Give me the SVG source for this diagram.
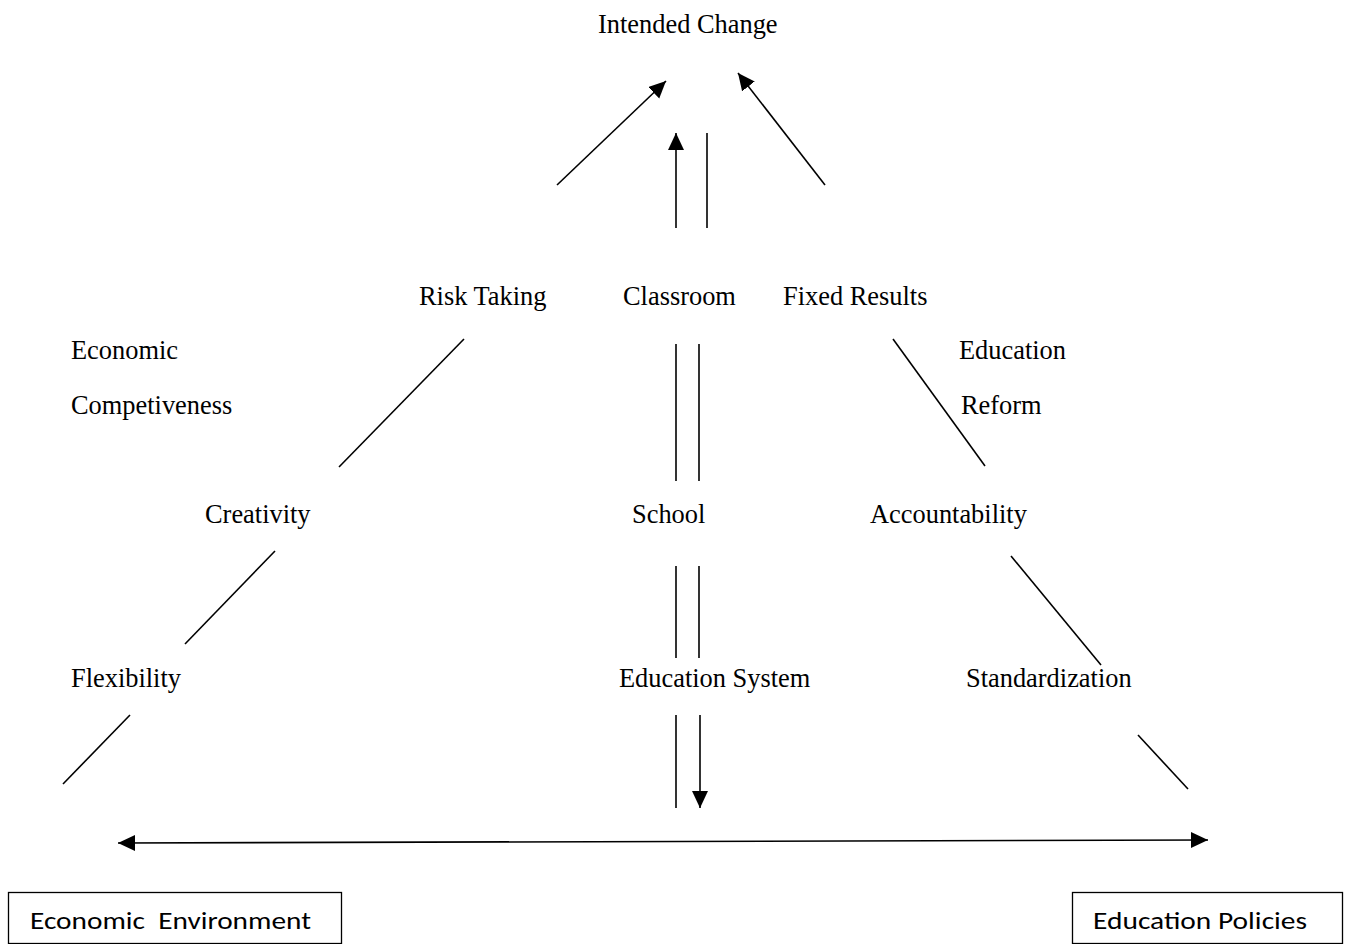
<svg xmlns="http://www.w3.org/2000/svg" width="1345" height="944" viewBox="0 0 1345 944">
<style>
.t{font-family:"Liberation Serif","Times New Roman",serif;font-size:26.4px;fill:#000}
.b{font-family:"Carlito","Liberation Sans",Arial,sans-serif;font-size:25px;fill:#000}
.c line{stroke:#000;stroke-width:1.6}
.box{fill:#fff;stroke:#000;stroke-width:1.3}
</style>
<defs>
<marker id="ah" markerUnits="userSpaceOnUse" markerWidth="19" markerHeight="18" refX="17" refY="8" orient="auto-start-reverse">
<path d="M0,0 L17,8 L0,16 Z" fill="#000"/>
</marker>
</defs>
<g id="n-intended"><text class="t" x="598" y="33">Intended Change</text></g>
<g id="n-risk"><text class="t" x="419" y="305">Risk Taking</text></g>
<g id="n-classroom"><text class="t" x="623" y="305">Classroom</text></g>
<g id="n-fixed"><text class="t" x="783" y="305">Fixed Results</text></g>
<g id="n-econ-comp"><text class="t" x="71" y="359">Economic</text><text class="t" x="71" y="414">Competiveness</text></g>
<g id="n-edu-reform"><text class="t" x="959" y="359">Education</text><text class="t" x="961" y="414">Reform</text></g>
<g id="n-creativity"><text class="t" x="205" y="523">Creativity</text></g>
<g id="n-school"><text class="t" x="632" y="523">School</text></g>
<g id="n-accountability"><text class="t" x="870" y="523">Accountability</text></g>
<g id="n-flexibility"><text class="t" x="71" y="687">Flexibility</text></g>
<g id="n-edusystem"><text class="t" x="619" y="687">Education System</text></g>
<g id="n-standard"><text class="t" x="966" y="687">Standardization</text></g>
<g id="n-econ-env"><rect class="box" x="8.5" y="892.5" width="333" height="51"/><text class="b" x="30" y="929" textLength="281" lengthAdjust="spacingAndGlyphs" xml:space="preserve">Economic  Environment</text></g>
<g id="n-edu-pol"><rect class="box" x="1072.5" y="892.5" width="270" height="51"/><text class="b" x="1093" y="929" textLength="214" lengthAdjust="spacingAndGlyphs">Education Policies</text></g>
<g id="connectors" class="c">
<line x1="557" y1="185" x2="666" y2="81" marker-end="url(#ah)"/>
<line x1="676" y1="228" x2="676" y2="133" marker-end="url(#ah)"/>
<line x1="707" y1="133" x2="707" y2="228"/>
<line x1="825" y1="185" x2="738" y2="73" marker-end="url(#ah)"/>
<line x1="464" y1="339" x2="339" y2="467"/>
<line x1="676" y1="344" x2="676" y2="481"/>
<line x1="699" y1="344" x2="699" y2="481"/>
<line x1="893" y1="339" x2="985" y2="466"/>
<line x1="275" y1="551" x2="185" y2="644"/>
<line x1="676" y1="566" x2="676" y2="658"/>
<line x1="699" y1="566" x2="699" y2="658"/>
<line x1="1011" y1="556" x2="1101" y2="665"/>
<line x1="130" y1="715" x2="63" y2="784"/>
<line x1="676" y1="715" x2="676" y2="808"/>
<line x1="700" y1="715" x2="700" y2="808" marker-end="url(#ah)"/>
<line x1="1138" y1="735" x2="1188" y2="789"/>
<line x1="118" y1="843" x2="1208" y2="840" marker-start="url(#ah)" marker-end="url(#ah)"/>
</g>
</svg>
